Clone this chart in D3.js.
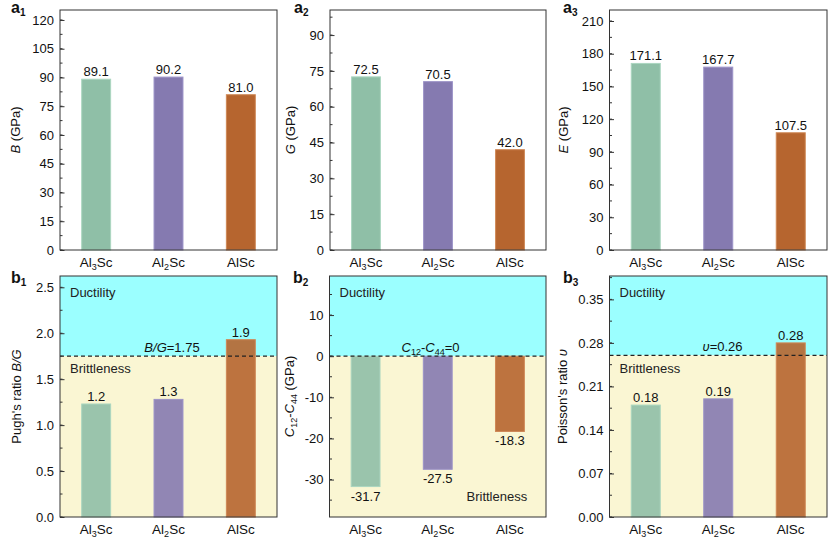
<!DOCTYPE html>
<html>
<head>
<meta charset="utf-8">
<script src="https://cdn.jsdelivr.net/npm/d3@7"></script>
<style>
  body { margin: 0; background: #fff; }
  svg { font-family: "Liberation Sans", Arial, sans-serif; }
</style>
</head>
<body>
<div id="chart"></div>
<script>
// compounds
const phases = ["Al3Sc", "Al2Sc", "AlSc"];
const phaseSub = [["Al", "3", "Sc"], ["Al", "2", "Sc"], ["AlSc", "", ""]];

// series values
const bulkModulus = [89.1, 90.2, 81.0];
const shearModulus = [72.5, 70.5, 42.0];
const youngModulus = [171.1, 167.7, 107.5];
const pughRatio = [1.23, 1.28, 1.93];
const cauchyPressure = [-31.7, -27.5, -18.3];
const poissonRatio = [0.18, 0.19, 0.28];

// tick labels
const ticksB = [0, 15, 30, 45, 60, 75, 90, 105, 120];
const ticksG = [0, 15, 30, 45, 60, 75, 90];
const ticksE = [0, 30, 60, 90, 120, 150, 180, 210];
const ticksBG = [0.0, 0.5, 1.0, 1.5, 2.0, 2.5];
const ticksC = [-30, -20, -10, 0, 10];
const ticksNu = [0.00, 0.07, 0.14, 0.21, 0.28, 0.35];

const barColors = ["#8fbfa7", "#857ab0", "#b6652f"];
const barStroke = ["#abd6c0", "#9c93c8", "#cf8856"];
const cyan = "#9bffff";
const beige = "#faf6d3";

const svg = d3.select("#chart").append("svg")
    .attr("width", 830)
    .attr("height", 545);

function richText(sel, parts) {
    parts.forEach(p => {
        const t = sel.append("tspan").text(p.t);
        if (p.i) t.style("font-style", "italic");
        if (p.sub) t.attr("dy", 3).style("font-size", "9px");
        if (p.up) t.attr("dy", -3);
    });
}

function drawPanel(cfg) {
    const w = cfg.right - cfg.left;
    const h = cfg.bottom - cfg.top;
    const g = svg.append("g")
        .attr("transform", `translate(${cfg.left},${cfg.top})`);

    const x = d3.scaleBand().domain(phases).range([0, w])
        .paddingInner(0.6).paddingOuter(0.3);
    const y = d3.scaleLinear().domain(cfg.domain).range([h, 0]);

    // ductile / brittle regions
    if (cfg.threshold !== undefined) {
        g.append("rect")
            .attr("x", 0).attr("y", 0)
            .attr("width", w).attr("height", y(cfg.threshold))
            .attr("fill", cyan);
        g.append("rect")
            .attr("x", 0).attr("y", y(cfg.threshold))
            .attr("width", w).attr("height", h - y(cfg.threshold))
            .attr("fill", beige);
    }

    const base = Math.max(cfg.domain[0], 0);

    g.selectAll(".bar")
        .data(cfg.values)
        .enter().append("rect")
        .attr("class", "bar")
        .attr("x", (d, i) => x(phases[i]))
        .attr("width", x.bandwidth())
        .attr("y", d => y(Math.max(d, base)))
        .attr("height", d => Math.abs(y(d) - y(base)))
        .attr("fill", (d, i) => barColors[i])
        .attr("fill-opacity", cfg.threshold !== undefined ? 0.9 : 1)
        .attr("stroke", (d, i) => barStroke[i])
        .attr("stroke-width", 1);

    g.selectAll(".val")
        .data(cfg.values)
        .enter().append("text")
        .attr("class", "val")
        .attr("x", (d, i) => x(phases[i]) + x.bandwidth() / 2)
        .attr("y", d => d >= 0 ? y(d) - 3 : y(d) + 14)
        .attr("text-anchor", "middle")
        .style("font-size", "13px")
        .style("fill", "#111")
        .text(d => d.toFixed(cfg.digits));

    // threshold line
    if (cfg.threshold !== undefined) {
        g.append("line")
            .attr("x1", 0).attr("x2", w)
            .attr("y1", y(cfg.threshold)).attr("y2", y(cfg.threshold))
            .attr("stroke", "#222")
            .attr("stroke-width", 1.2)
            .attr("stroke-dasharray", "4 3");

        const lab = g.append("text")
            .attr("x", cfg.lineLabelX)
            .attr("y", y(cfg.threshold) - 4)
            .attr("text-anchor", "middle")
            .style("font-size", "13px")
            .style("fill", "#111");
        richText(lab, cfg.lineLabel);

        g.append("text")
            .attr("x", 10).attr("y", 21)
            .style("font-size", "13px").style("fill", "#222")
            .text("Ductility");
        g.append("text")
            .attr("x", cfg.brittleX).attr("y", cfg.brittleY)
            .style("font-size", "13px").style("fill", "#222")
            .text("Brittleness");
    }

    // minor ticks halfway between the labelled ones
    const step = cfg.ticks[1] - cfg.ticks[0];
    const minor = d3.range(Math.ceil(cfg.domain[0] / (step / 2)),
        Math.floor(cfg.domain[1] / (step / 2)) + 1).map(k => k * step / 2);

    g.selectAll(".minor")
        .data(minor)
        .enter().append("line")
        .attr("x1", 0).attr("x2", 2.5)
        .attr("y1", d => y(d)).attr("y2", d => y(d))
        .attr("stroke", "#333").attr("stroke-width", 1);

    const yAxis = g.append("g")
        .call(d3.axisLeft(y).tickValues(cfg.ticks)
            .tickSizeInner(-4.5).tickSizeOuter(0).tickPadding(6)
            .tickFormat(d3.format(cfg.tickFmt)));
    yAxis.select(".domain").remove();
    yAxis.selectAll("line").attr("stroke", "#333");
    yAxis.selectAll("text")
        .style("font-size", "13px")
        .style("fill", "#111")
        .style("font-family", "'Liberation Sans', Arial, sans-serif")
        .text(d => d3.format(cfg.tickFmt)(d).replace("−", "-"));

    // x category labels
    g.selectAll(".cat")
        .data(phaseSub)
        .enter().append("text")
        .attr("class", "cat")
        .attr("x", (d, i) => x(phases[i]) + x.bandwidth() / 2)
        .attr("y", h + 17)
        .attr("text-anchor", "middle")
        .style("font-size", "13.5px")
        .style("fill", "#111")
        .each(function(d) {
            const t = d3.select(this);
            t.append("tspan").text(d[0]);
            if (d[1]) {
                t.append("tspan").attr("dy", 3).style("font-size", "9px").text(d[1]);
                t.append("tspan").attr("dy", -3).text(d[2]);
            }
        });

    // frame
    g.append("rect")
        .attr("x", 0).attr("y", 0)
        .attr("width", w).attr("height", h)
        .attr("fill", "none")
        .attr("stroke", "#333")
        .attr("stroke-width", 1);

    // y title
    const yt = svg.append("text")
        .attr("transform", `translate(${cfg.titleX},${cfg.top + h / 2}) rotate(-90)`)
        .attr("text-anchor", "middle")
        .style("font-size", "13px")
        .style("fill", "#111");
    richText(yt, cfg.title);

    // panel letter
    const pl = svg.append("text")
        .attr("x", cfg.letterX).attr("y", cfg.top + cfg.letterDy)
        .style("font-size", "16px")
        .style("font-weight", "bold")
        .style("fill", "#111");
    pl.append("tspan").text(cfg.letter[0]);
    pl.append("tspan").attr("dy", 3).style("font-size", "10px").text(cfg.letter[1]);
}

const topRow = { top: 10, bottom: 250, letterDy: 3 };
const botRow = { top: 276, bottom: 517, letterDy: 7 };

drawPanel(Object.assign({}, topRow, {
    left: 60, right: 277, domain: [0, 125.2], ticks: ticksB, tickFmt: "d",
    values: bulkModulus, digits: 1, titleX: 20, letterX: 11, letter: ["a", "1"],
    title: [{ t: "B", i: true }, { t: " (GPa)" }]
}));
drawPanel(Object.assign({}, topRow, {
    left: 330, right: 546, domain: [0, 100.5], ticks: ticksG, tickFmt: "d",
    values: shearModulus, digits: 1, titleX: 295, letterX: 294, letter: ["a", "2"],
    title: [{ t: "G", i: true }, { t: " (GPa)" }]
}));
drawPanel(Object.assign({}, topRow, {
    left: 609.5, right: 827, domain: [0, 220.1], ticks: ticksE, tickFmt: "d",
    values: youngModulus, digits: 1, titleX: 568, letterX: 563, letter: ["a", "3"],
    title: [{ t: "E", i: true }, { t: " (GPa)" }]
}));
drawPanel(Object.assign({}, botRow, {
    left: 60, right: 277, domain: [0, 2.623], ticks: ticksBG, tickFmt: ".1f",
    values: pughRatio, digits: 1, titleX: 21, letterX: 11, letter: ["b", "1"],
    title: [{ t: "Pugh's ratio " }, { t: "B/G", i: true }],
    threshold: 1.75, lineLabelX: 112,
    lineLabel: [{ t: "B/G", i: true }, { t: "=1.75" }],
    brittleX: 10, brittleY: 97
}));
drawPanel(Object.assign({}, botRow, {
    left: 329.5, right: 546, domain: [-39.1, 19.5], ticks: ticksC, tickFmt: "d",
    values: cauchyPressure, digits: 1, titleX: 294, letterX: 293, letter: ["b", "2"],
    title: [{ t: "C", i: true }, { t: "12", sub: true }, { t: "-", up: true },
            { t: "C", i: true }, { t: "44", sub: true }, { t: " (GPa)", up: true }],
    threshold: 0, lineLabelX: 101,
    lineLabel: [{ t: "C", i: true }, { t: "12", sub: true }, { t: "-", up: true },
                { t: "C", i: true }, { t: "44", sub: true }, { t: "=0", up: true }],
    brittleX: 137, brittleY: 225
}));
drawPanel(Object.assign({}, botRow, {
    left: 609.5, right: 827, domain: [0, 0.3876], ticks: ticksNu, tickFmt: ".2f",
    values: poissonRatio, digits: 2, titleX: 567, letterX: 563, letter: ["b", "3"],
    title: [{ t: "Poisson's ratio " }, { t: "υ", i: true }],
    threshold: 0.26, lineLabelX: 113,
    lineLabel: [{ t: "υ", i: true }, { t: "=0.26" }],
    brittleX: 10, brittleY: 97
}));
</script>
</body>
</html>
